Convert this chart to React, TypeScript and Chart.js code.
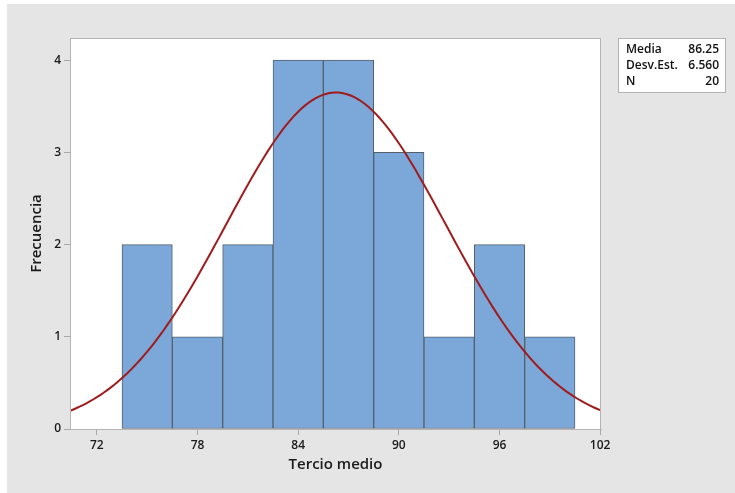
import React, { useEffect, useRef } from "react";
import { Chart, registerables } from "chart.js";

Chart.register(...registerables);

// Histogram bins (centre of each 3-unit bin) and their frequencies
const binCenters = [75, 78, 81, 84, 87, 90, 93, 96, 99];
const frequencies = [2, 1, 2, 4, 4, 3, 1, 2, 1];
const binWidth = 3;

// Summary statistics shown in the box and used for the fitted normal curve
const mean = 86.25;
const stdDev = 6.56;
const sampleSize = 20;
const statLabels = ["Media", "Desv.Est.", "N"];
const statValues = ["86.25", "6.560", "20"];

// Axis ranges and tick labels
const xTicks = [72, 78, 84, 90, 96, 102];
const yTicks = [0, 1, 2, 3, 4];
const xMin = 70.4;
const xMax = 102.05;
const yMax = 4.24;

const FONT = "'Open Sans', 'Noto Sans', sans-serif";

// Normal density scaled to frequency units (N * bin width)
function fittedCurve() {
  const pts: { x: number; y: number }[] = [];
  const scale = sampleSize * binWidth;
  for (let x = xMin; x <= xMax + 0.001; x += 0.2) {
    const z = (x - mean) / stdDev;
    const y = (scale / (stdDev * Math.sqrt(2 * Math.PI))) * Math.exp(-0.5 * z * z);
    pts.push({ x, y });
  }
  return pts;
}

const backgroundPlugin = {
  id: "panelBackground",
  beforeDraw(chart: any) {
    const { ctx, width, height, chartArea } = chart;
    ctx.save();
    ctx.fillStyle = "#ffffff";
    ctx.fillRect(0, 0, width, height);
    ctx.fillStyle = "#e5e5e5";
    ctx.fillRect(7, 4, width - 7, height - 4);
    ctx.fillStyle = "#ffffff";
    ctx.fillRect(chartArea.left, chartArea.top, chartArea.right - chartArea.left, chartArea.bottom - chartArea.top);
    ctx.restore();
  },
  afterDraw(chart: any) {
    const { ctx, chartArea } = chart;
    ctx.save();
    ctx.strokeStyle = "#b4b4b4";
    ctx.lineWidth = 1;
    ctx.strokeRect(
      Math.round(chartArea.left) + 0.5,
      Math.round(chartArea.top) + 0.5,
      Math.round(chartArea.right - chartArea.left) - 1,
      Math.round(chartArea.bottom - chartArea.top)
    );

    // statistics box
    const bx = 618.5, by = 38.5, bw = 107, bh = 54;
    ctx.fillStyle = "#ffffff";
    ctx.fillRect(bx, by, bw, bh);
    ctx.strokeStyle = "#b4b4b4";
    ctx.strokeRect(bx, by, bw, bh);
    ctx.fillStyle = "#111111";
    ctx.font = `600 12px ${FONT}`;
    ctx.textBaseline = "middle";
    statLabels.forEach((label, i) => {
      const y = 50 + i * 16;
      ctx.textAlign = "left";
      ctx.fillText(label, 626, y);
      ctx.textAlign = "right";
      ctx.fillText(statValues[i], 719, y);
    });
    ctx.restore();
  },
};

export default function App() {
  const canvasRef = useRef<HTMLCanvasElement | null>(null);

  useEffect(() => {
    if (!canvasRef.current) return;
    const chart = new Chart(canvasRef.current, {
      type: "bar",
      data: {
        datasets: [
          {
            type: "line",
            label: "Normal",
            data: fittedCurve(),
            borderColor: "#a01c1c",
            borderWidth: 2,
            pointRadius: 0,
            tension: 0,
            fill: false,
            order: 0,
          } as any,
          {
            type: "bar",
            label: "Frecuencia",
            data: binCenters.map((x, i) => ({ x, y: frequencies[i] })),
            backgroundColor: "#7ba7d9",
            borderColor: "#55606b",
            borderWidth: 1,
            borderSkipped: false,
            categoryPercentage: 1,
            barPercentage: 1,
            order: 1,
          } as any,
        ],
      },
      options: {
        animation: false,
        responsive: false,
        events: [],
        layout: { padding: { left: 0, top: 38, right: 134, bottom: 0 } },
        plugins: { legend: { display: false }, tooltip: { enabled: false } },
        scales: {
          x: {
            type: "linear",
            min: xMin,
            max: xMax,
            offset: false,
            afterBuildTicks: (scale: any) => {
              scale.ticks = xTicks.map((v) => ({ value: v }));
            },
            afterFit: (scale: any) => {
              scale.height = 64;
            },
            grid: { display: true, drawOnChartArea: false, offset: false, tickLength: 6, tickColor: "#a8a8a8" },
            border: { display: true, color: "#b4b4b4" },
            ticks: {
              padding: 3,
              maxRotation: 0,
              autoSkip: false,
              color: "#1a1a1a",
              font: { family: FONT, size: 12, weight: "600" },
              callback: (v: any) => String(v),
            },
            title: {
              display: true,
              text: "Tercio medio",
              color: "#1a1a1a",
              font: { family: FONT, size: 15, weight: "600" },
              padding: { top: 0, bottom: 19 },
            },
          },
          y: {
            type: "linear",
            min: 0,
            max: yMax,
            afterBuildTicks: (scale: any) => {
              scale.ticks = yTicks.map((v) => ({ value: v }));
            },
            afterFit: (scale: any) => {
              scale.width = 70;
            },
            grid: { display: true, drawOnChartArea: false, tickLength: 6, tickColor: "#a8a8a8" },
            border: { display: true, color: "#b4b4b4" },
            ticks: {
              padding: 3,
              color: "#1a1a1a",
              font: { family: FONT, size: 12, weight: "600" },
              callback: (v: any) => String(v),
            },
            title: {
              display: true,
              text: "Frecuencia",
              color: "#1a1a1a",
              font: { family: FONT, size: 15, weight: "600" },
              padding: { top: 28, bottom: 0 },
            },
          },
        },
      },
      plugins: [backgroundPlugin],
    });
    return () => chart.destroy();
  }, []);

  return (
    <div style={{ position: "fixed", left: 0, top: 0, width: 735, height: 493 }}>
      <canvas ref={canvasRef} width={735} height={493} style={{ display: "block", width: 735, height: 493 }} />
    </div>
  );
}
